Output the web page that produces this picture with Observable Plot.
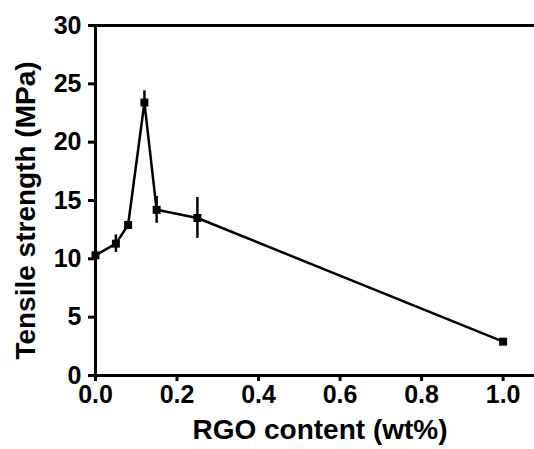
<!DOCTYPE html>
<html>
<head>
<meta charset="utf-8">
<script src="https://cdn.jsdelivr.net/npm/d3@7"></script>
<script src="https://cdn.jsdelivr.net/npm/@observablehq/plot@0.6"></script>
<style>
  html, body { margin: 0; padding: 0; background: #fff; }
  svg { display: block; }
</style>
</head>
<body>
<div id="chart"></div>
<script>
const rgoContent = [0, 0.05, 0.08, 0.12, 0.15, 0.25, 1.0];
const strength   = [10.3, 11.3, 12.9, 23.4, 14.2, 13.5, 2.9];
const errors     = [0.3, 0.75, 0.35, 1.0, 1.15, 1.75, 0.25];
const xTicks = [0, 0.2, 0.4, 0.6, 0.8, 1.0];
const yTicks = [0, 5, 10, 15, 20, 25, 30];
const xTitle = "RGO content (wt%)";
const yTitle = "Tensile strength (MPa)";

const data = rgoContent.map((x, i) => ({x, y: strength[i], e: errors[i]}));
const font = "Liberation Sans, Arial, Helvetica, sans-serif";

const chart = Plot.plot({
  width: 534,
  height: 449,
  marginLeft: 95,
  marginRight: 0,
  marginTop: 25,
  marginBottom: 74,
  style: {fontFamily: font, background: "#fff", color: "#000"},
  x: {domain: [0, 1.077]},
  y: {domain: [0, 30]},
  marks: [
    Plot.axisX({ticks: xTicks, tickFormat: d3.format(".1f"), tickSize: 6, strokeWidth: 3,
      tickPadding: 4, fontSize: 25, fontWeight: "bold", label: null}),
    Plot.axisY({ticks: yTicks, tickSize: 7, strokeWidth: 3, tickPadding: 7,
      fontSize: 25, fontWeight: "bold", label: null}),
    Plot.ruleY([0, 30], {stroke: "#000", strokeWidth: 3}),
    Plot.ruleX([0], {stroke: "#000", strokeWidth: 3}),
    Plot.ruleX(data, {x: "x", y1: d => d.y - d.e, y2: d => d.y + d.e, stroke: "#000", strokeWidth: 2.5}),
    Plot.line(data, {x: "x", y: "y", stroke: "#000", strokeWidth: 2.5}),
    Plot.dot(data, {x: "x", y: "y", symbol: "square", r: 4.5, fill: "#000", stroke: "none"}),
    Plot.text([xTitle], {frameAnchor: "bottom", textAnchor: "middle", dy: 63, dx: 5, fontSize: 28, fontWeight: "bold", fill: "#000"}),
    Plot.text([yTitle], {frameAnchor: "left", textAnchor: "middle", lineAnchor: "middle", dx: -69, dy: 10, rotate: -90, fontSize: 28, fontWeight: "bold", fill: "#000"})
  ]
});
document.getElementById("chart").append(chart);
</script>
</body>
</html>
